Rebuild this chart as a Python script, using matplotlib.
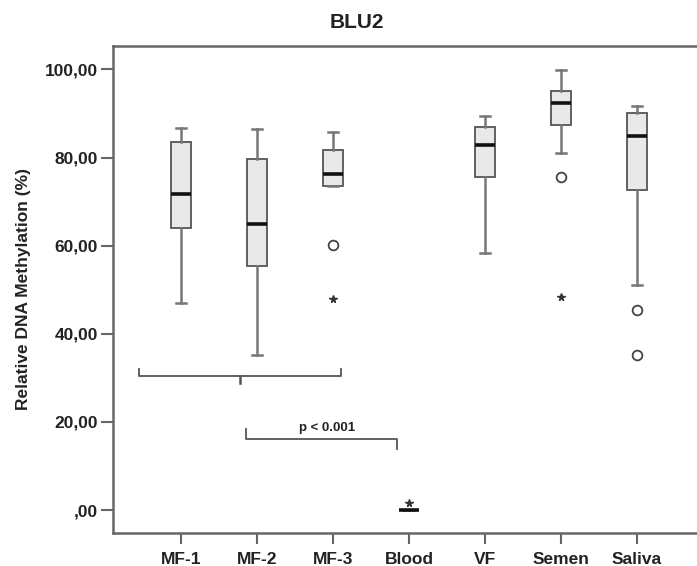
import matplotlib.pyplot as plt

plt.rcParams['font.family'] = ['Liberation Sans', 'DejaVu Sans']
plt.rcParams['font.weight'] = 'bold'

# box summary values
groups = ["MF-1", "MF-2", "MF-3", "Blood", "VF", "Semen", "Saliva"]
whisker_low = [47.0, 35.3, 73.6, 0.0, 58.3, 81.0, 51.1]
q1 = [63.9, 55.4, 73.6, 0.0, 75.5, 87.3, 72.7]
median = [71.7, 64.8, 76.3, 0.0, 82.9, 92.3, 84.8]
q3 = [83.6, 79.7, 81.7, 0.0, 87.0, 95.0, 90.1]
whisker_high = [86.6, 86.4, 85.8, 0.0, 89.4, 99.9, 91.7]

# outliers (circles) and extremes (stars)
circle_x = [3, 6, 7, 7]
circle_y = [60.2, 75.6, 45.5, 35.2]
star_x = [3, 4, 6]
star_y = [48.0, 1.5, 48.3]

stats = []
for i, g in enumerate(groups):
    stats.append(dict(label=g, whislo=whisker_low[i], q1=q1[i], med=median[i],
                      q3=q3[i], whishi=whisker_high[i], fliers=[]))

W, H = 697, 566
fig = plt.figure(figsize=(W / 100, H / 100), dpi=100)
ax = fig.add_axes([113 / W, 33 / H, 1 - 113 / W, (533 - 46) / H])

ax.bxp(stats, positions=range(1, 8), widths=0.26, capwidths=0.12,
       patch_artist=True, showfliers=False,
       boxprops=dict(facecolor='#e9e9e9', edgecolor='#555555', linewidth=1.3),
       medianprops=dict(color='#111111', linewidth=2.6),
       whiskerprops=dict(color='#777777', linewidth=1.8),
       capprops=dict(color='#777777', linewidth=1.8))

ax.plot(circle_x, circle_y, 'o', mfc='white', mec='#444444', ms=7, mew=1.3)
ax.plot(star_x, star_y, '*', color='#333333', ms=5.5)

# comparison brackets
gc = '#555555'
ax.plot([0.447, 0.447, 3.105, 3.105], [32.0, 30.5, 30.5, 32.0], color=gc, lw=1.3)
ax.plot([1.776, 1.776], [30.5, 28.9], color=gc, lw=1.8)
ax.plot([1.851, 1.851, 3.838, 3.838], [18.4, 16.05, 16.05, 13.8], color=gc, lw=1.3)
ax.text(2.925, 17.3, "p < 0.001", ha='center', va='bottom', fontsize=9.5,
        fontweight='bold', color='#222222')

ax.set_xlim(0.105, 7.79)
ax.set_ylim(-5.2, 105.3)
ax.set_xticks(range(1, 8))
ax.set_xticklabels(groups)
yt = [0, 20, 40, 60, 80, 100]
ax.set_yticks(yt)
ax.set_yticklabels([",00" if v == 0 else f"{v},00" for v in yt])
ax.tick_params(axis='x', length=8, width=1.5, color='#666666', labelsize=12.5, pad=5.5)
ax.tick_params(axis='y', length=9, width=1.5, color='#666666', labelsize=12.5, pad=2)
for lab in ax.get_xticklabels() + ax.get_yticklabels():
    lab.set_fontweight('bold')
    lab.set_color('#222222')

for s in ['left', 'bottom', 'top']:
    ax.spines[s].set_color('#666666')
    ax.spines[s].set_linewidth(1.8)
ax.spines['right'].set_visible(False)

ax.set_ylabel("Relative DNA Methylation (%)", fontsize=12.5, fontweight='bold',
              color='#222222', labelpad=10)
fig.text(357 / W, 1 - 23 / H, "BLU2", ha='center', va='center', fontsize=15,
         fontweight='bold', color='#222222')

fig.savefig("out.png", dpi=100)
